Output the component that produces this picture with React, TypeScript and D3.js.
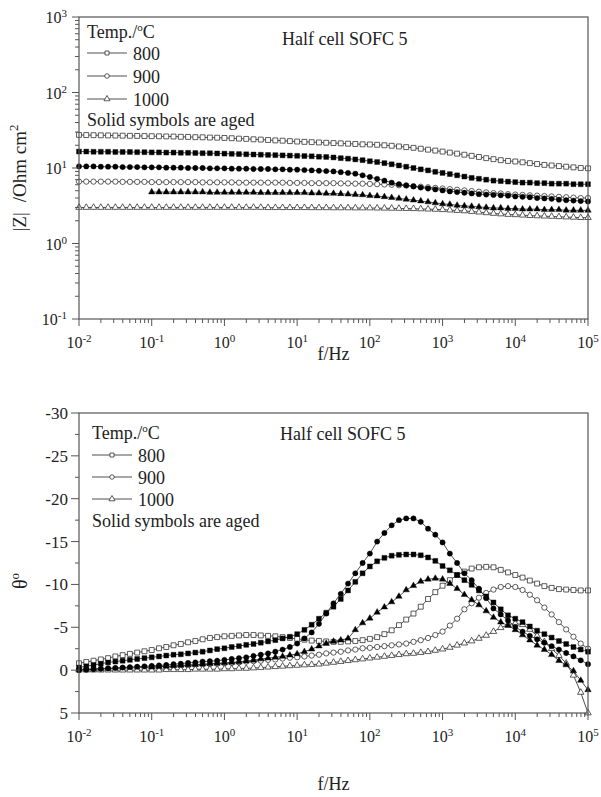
import React from "react";
import * as d3 from "d3";

// frequency grid: 10 points per decade, 10^-2 .. 10^5 Hz
const LOG_F = d3.range(-20, 51).map((k) => k / 10);
const FREQ = LOG_F.map((e) => Math.pow(10, e));

// |Z| / Ohm cm2
const Z_800 = [
  27.4, 27.3, 27.2, 27.1, 27.0, 26.9, 26.8, 26.7, 26.6, 26.5,
  26.4, 26.3, 26.2, 26.1, 25.9, 25.8, 25.6, 25.5, 25.3, 25.2,
  25.0, 24.8, 24.5, 24.3, 24.0, 23.8, 23.5, 23.2, 23.0, 22.7,
  22.4, 22.2, 22.0, 21.8, 21.6, 21.4, 21.2, 21.0, 20.8, 20.6,
  20.5, 20.3, 20.0, 19.7, 19.3, 18.9, 18.5, 18.0, 17.5, 17.0,
  16.5, 16.0, 15.5, 15.0, 14.5, 14.0, 13.5, 13.1, 12.7, 12.4,
  12.2, 11.9, 11.6, 11.3, 11.0, 10.8, 10.6, 10.4, 10.2, 10.0,
  9.9,
];
const Z_800_AGED = [
  16.5, 16.5, 16.4, 16.4, 16.4, 16.3, 16.3, 16.3, 16.2, 16.2,
  16.1, 16.1, 16.0, 16.0, 15.9, 15.9, 15.8, 15.7, 15.7, 15.6,
  15.5, 15.4, 15.3, 15.2, 15.1, 15.0, 14.9, 14.8, 14.7, 14.6,
  14.5, 14.4, 14.3, 14.1, 14.0, 13.8, 13.5, 13.3, 13.0, 12.7,
  12.3, 12.0, 11.6, 11.2, 10.8, 10.4, 10.0, 9.6, 9.3, 8.9,
  8.6, 8.3, 8.0, 7.7, 7.4, 7.2, 7.0, 6.8, 6.7, 6.6,
  6.5, 6.4, 6.4, 6.3, 6.3, 6.2, 6.2, 6.2, 6.1, 6.1,
  6.1,
];
const Z_900 = [
  6.6, 6.6, 6.6, 6.6, 6.6, 6.6, 6.55, 6.55, 6.55, 6.55,
  6.5, 6.5, 6.5, 6.5, 6.5, 6.5, 6.5, 6.45, 6.45, 6.45,
  6.45, 6.45, 6.4, 6.4, 6.4, 6.4, 6.4, 6.4, 6.4, 6.35,
  6.35, 6.35, 6.3, 6.3, 6.3, 6.3, 6.25, 6.25, 6.2, 6.2,
  6.15, 6.1, 6.05, 6.0, 5.9, 5.85, 5.75, 5.65, 5.55, 5.45,
  5.35, 5.25, 5.15, 5.05, 4.95, 4.85, 4.75, 4.65, 4.6, 4.5,
  4.45, 4.4, 4.35, 4.3, 4.25, 4.2, 4.15, 4.1, 4.05, 4.0,
  4.0,
];
const Z_900_AGED = [
  10.5, 10.5, 10.5, 10.4, 10.4, 10.4, 10.3, 10.3, 10.3, 10.2,
  10.2, 10.2, 10.1, 10.1, 10.1, 10.0, 10.0, 10.0, 9.9, 9.9,
  9.9, 9.8, 9.8, 9.8, 9.7, 9.7, 9.7, 9.6, 9.6, 9.5,
  9.5, 9.4, 9.3, 9.2, 9.1, 9.0, 8.8, 8.6, 8.4, 8.0,
  7.6, 7.2, 6.8, 6.4, 6.1, 5.9, 5.7, 5.5, 5.35, 5.2,
  5.05, 4.9, 4.8, 4.7, 4.6, 4.5, 4.45, 4.4, 4.35, 4.3,
  4.2, 4.15, 4.1, 4.0, 3.95, 3.9, 3.8, 3.75, 3.7, 3.65,
  3.6,
];
const Z_1000 = [
  3.0, 3.0, 3.0, 3.0, 3.0, 3.0, 3.0, 3.0, 3.0, 3.0,
  3.0, 3.0, 3.0, 3.0, 3.0, 3.0, 3.0, 3.0, 3.0, 3.0,
  3.0, 3.0, 3.0, 3.0, 3.0, 3.0, 2.98, 2.98, 2.98, 2.98,
  2.98, 2.98, 2.97, 2.97, 2.97, 2.96, 2.96, 2.96, 2.95, 2.95,
  2.95, 2.94, 2.93, 2.92, 2.91, 2.9, 2.89, 2.87, 2.85, 2.83,
  2.8, 2.77, 2.73, 2.7, 2.65, 2.6, 2.55, 2.5, 2.46, 2.42,
  2.4, 2.37, 2.34, 2.32, 2.3, 2.28, 2.26, 2.24, 2.22, 2.2,
  2.2,
];
const Z_1000_AGED = [
  null, null, null, null, null, null, null, null, null, null,
  4.8, 4.8, 4.8, 4.8, 4.8, 4.8, 4.8, 4.8, 4.75, 4.75,
  4.75, 4.75, 4.75, 4.75, 4.75, 4.7, 4.7, 4.7, 4.7, 4.7,
  4.7, 4.7, 4.65, 4.65, 4.6, 4.6, 4.55, 4.5, 4.45, 4.4,
  4.3, 4.25, 4.15, 4.05, 3.95, 3.85, 3.75, 3.65, 3.55, 3.45,
  3.35, 3.3, 3.2, 3.15, 3.1, 3.05, 3.0, 2.95, 2.95, 2.9,
  2.9, 2.85, 2.85, 2.85, 2.8, 2.8, 2.8, 2.75, 2.75, 2.75,
  2.75,
];

// phase angle theta / degree
const T_800 = [
  -0.8, -0.95, -1.1, -1.25, -1.4, -1.6, -1.75, -1.9, -2.05, -2.2,
  -2.35, -2.55, -2.7, -2.9, -3.05, -3.25, -3.4, -3.6, -3.75, -3.85,
  -3.95, -4.0, -4.05, -4.1, -4.1, -4.05, -4.0, -3.95, -3.85, -3.75,
  -3.65, -3.55, -3.45, -3.4, -3.35, -3.3, -3.3, -3.35, -3.4, -3.5,
  -3.65, -3.85, -4.2, -4.65, -5.25, -5.9, -6.6, -7.4, -8.3, -9.1,
  -9.85, -10.5, -11.1, -11.5, -11.85, -12.0, -12.05, -12.0, -11.7, -11.4,
  -11.1, -10.8, -10.45, -10.1, -9.8, -9.6, -9.45, -9.4, -9.35, -9.3,
  -9.3,
];
const T_800_AGED = [
  -0.3, -0.45, -0.6, -0.75, -0.9, -1.0, -1.1, -1.2, -1.3, -1.4,
  -1.5, -1.6, -1.7, -1.8, -1.85, -1.95, -2.05, -2.15, -2.3, -2.45,
  -2.55, -2.7, -2.8, -2.95, -3.05, -3.2, -3.35, -3.5, -3.7, -3.9,
  -4.2, -4.7, -5.3, -6.0, -6.7, -7.4, -8.3, -9.3, -10.3, -11.3,
  -12.1, -12.7, -13.1, -13.35, -13.45, -13.5, -13.5, -13.4, -13.15, -12.75,
  -12.15, -11.65, -11.1, -10.5, -9.95, -9.3, -8.6, -7.9, -7.1, -6.4,
  -6.0, -5.6, -5.1, -4.6, -4.2, -3.8, -3.4, -3.05, -2.7, -2.4,
  -2.15,
];
const T_900 = [
  -0.1, -0.1, -0.15, -0.15, -0.2, -0.2, -0.25, -0.25, -0.3, -0.3,
  -0.35, -0.4, -0.4, -0.45, -0.5, -0.55, -0.6, -0.65, -0.7, -0.75,
  -0.8, -0.85, -0.9, -1.0, -1.05, -1.1, -1.2, -1.25, -1.35, -1.45,
  -1.5, -1.6, -1.7, -1.8, -1.95, -2.05, -2.15, -2.3, -2.4, -2.55,
  -2.6, -2.7, -2.8, -2.9, -3.0, -3.1, -3.3, -3.5, -3.75, -4.1,
  -4.5, -5.2, -6.0, -7.1, -7.8, -8.45, -9.0, -9.4, -9.7, -9.8,
  -9.7, -9.35, -8.8, -8.15, -7.3, -6.5, -5.6, -4.75, -3.9, -3.1,
  -2.5,
];
const T_900_AGED = [
  0.0, -0.05, -0.1, -0.15, -0.2, -0.25, -0.3, -0.35, -0.4, -0.45,
  -0.5, -0.55, -0.6, -0.7, -0.75, -0.85, -0.9, -1.0, -1.05, -1.1,
  -1.2, -1.3, -1.4, -1.5, -1.65, -1.8, -1.95, -2.15, -2.4, -2.7,
  -3.1, -3.7, -4.4, -5.4, -6.6, -7.8, -8.9, -10.1, -11.3, -12.5,
  -13.6, -15.0, -16.0, -16.9, -17.5, -17.7, -17.7, -17.3, -16.5, -15.8,
  -14.9, -13.6, -12.5, -11.3, -10.5, -9.5, -8.4, -7.2, -6.5, -5.8,
  -5.05, -4.5, -4.0, -3.6, -3.2, -2.8, -2.4, -2.0, -1.6, -1.15,
  -0.7,
];
const T_1000 = [
  0.0, 0.0, 0.0, 0.0, 0.0, 0.0, 0.0, 0.0, 0.0, 0.0,
  0.0, 0.0, -0.05, -0.05, -0.05, -0.05, -0.1, -0.1, -0.1, -0.1,
  -0.15, -0.15, -0.2, -0.2, -0.25, -0.3, -0.35, -0.4, -0.45, -0.5,
  -0.55, -0.6, -0.65, -0.7, -0.8, -0.9, -1.0, -1.1, -1.2, -1.3,
  -1.4, -1.5, -1.6, -1.7, -1.8, -1.9, -1.95, -2.05, -2.15, -2.3,
  -2.45, -2.65, -2.9, -3.15, -3.4, -3.7, -4.05, -4.5, -4.95, -5.3,
  -5.45, -5.3, -4.75, -4.0, -3.3, -2.5, -1.7, -0.8, 0.6, 2.6,
  5.0,
];
const T_1000_AGED = [
  null, null, null, null, null, null, null, null, null, null,
  -0.35, -0.4, -0.45, -0.5, -0.55, -0.6, -0.65, -0.7, -0.75, -0.8,
  -0.85, -0.9, -0.95, -1.05, -1.15, -1.3, -1.4, -1.5, -1.6, -1.75,
  -1.9, -2.15, -2.45, -2.8, -3.1, -3.35, -3.5, -3.7, -4.7, -5.5,
  -6.05, -6.75, -7.35, -7.95, -8.6, -9.35, -9.85, -10.35, -10.6, -10.7,
  -10.6, -10.1, -9.5, -8.8, -8.2, -7.6, -6.9, -6.15, -5.6, -5.2,
  -4.7, -4.1, -3.5, -2.9, -2.4, -1.8, -1.1, -0.6, 0.1, 1.2,
  2.3,
];

const LEGEND_TEMPS = ["800", "900", "1000"];
const LEGEND_SYMBOLS = ["square", "circle", "triangle"];

const X_DECADES = [-2, -1, 0, 1, 2, 3, 4, 5];
const Z_DECADES = [-1, 0, 1, 2, 3];
const THETA_MAJOR = [-30, -25, -20, -15, -10, -5, 0, 5];

const FONT = "'Liberation Serif', 'Times New Roman', serif";
const FRAME = "#555";
const INK = "#222";

const L = 79, R = 588;
const TOP1 = 17, BOT1 = 319;
const TOP2 = 413, BOT2 = 713;

const x = d3.scaleLog().domain([1e-2, 1e5]).range([L, R]);
const yZ = d3.scaleLog().domain([0.1, 1000]).range([BOT1, TOP1]);
const yT = d3.scaleLinear().domain([5, -30]).range([BOT2, TOP2]);

const symPath = (kind: string, size: number) => {
  const t = kind === "square" ? d3.symbolSquare : kind === "circle" ? d3.symbolCircle : d3.symbolTriangle;
  return d3.symbol().type(t).size(size)() as string;
};
const SIZES: Record<string, number> = { square: 24, circle: 22, triangle: 18 };

function Series({ values, kind, filled, y }: any) {
  const pts = FREQ.map((f, i) => [f, values[i]] as [number, number | null]);
  const line = d3
    .line<[number, number | null]>()
    .defined((d) => d[1] != null)
    .x((d) => x(d[0]))
    .y((d) => y(d[1] as number));
  const p = symPath(kind, SIZES[kind]);
  return (
    <g>
      <path d={line(pts) as string} fill="none" stroke={INK} strokeWidth={0.8} />
      {pts
        .filter((d) => d[1] != null)
        .map((d, i) => (
          <path
            key={i}
            d={p}
            transform={`translate(${x(d[0])},${y(d[1] as number)})`}
            fill={filled ? "#000" : "#fff"}
            stroke={filled ? "#000" : "#333"}
            strokeWidth={filled ? 0.4 : 0.8}
          />
        ))}
    </g>
  );
}

function XAxis({ y0 }: { y0: number }) {
  const minor: number[] = [];
  X_DECADES.slice(0, -1).forEach((e) => {
    for (let m = 2; m <= 9; m++) minor.push(m * Math.pow(10, e));
  });
  return (
    <g>
      {minor.map((v, i) => (
        <line key={"m" + i} x1={x(v)} x2={x(v)} y1={y0} y2={y0 + 4} stroke={FRAME} strokeWidth={1} />
      ))}
      {X_DECADES.map((e) => (
        <g key={e}>
          <line x1={x(Math.pow(10, e))} x2={x(Math.pow(10, e))} y1={y0} y2={y0 + 7} stroke={FRAME} strokeWidth={1} />
          <text x={x(Math.pow(10, e))} y={y0 + 29} textAnchor="middle" fontSize={16} fill={INK}>
            10<tspan dy={-6} fontSize={11}>{e}</tspan>
          </text>
        </g>
      ))}
    </g>
  );
}

function Legend({ x0, yTitle, rowYs, ySolid }: any) {
  return (
    <g fill={INK}>
      <text x={x0} y={yTitle} fontSize={18}>
        Temp./<tspan dy={-7} fontSize={11}>o</tspan>
        <tspan dy={7}>C</tspan>
      </text>
      {LEGEND_TEMPS.map((t, i) => (
        <g key={t}>
          <line x1={x0} x2={x0 + 40} y1={rowYs[i]} y2={rowYs[i]} stroke={INK} strokeWidth={0.8} />
          <path
            d={symPath(LEGEND_SYMBOLS[i], 16)}
            transform={`translate(${x0 + 20},${rowYs[i]})`}
            fill="#fff"
            stroke="#333"
            strokeWidth={0.8}
          />
          <text x={x0 + 46} y={rowYs[i] + 7} fontSize={18}>
            {t}
          </text>
        </g>
      ))}
      <text x={x0} y={ySolid} fontSize={18}>
        Solid symbols are aged
      </text>
    </g>
  );
}

export default function App() {
  const zMinor: number[] = [];
  Z_DECADES.slice(0, -1).forEach((e) => {
    for (let m = 2; m <= 9; m++) zMinor.push(m * Math.pow(10, e));
  });
  const tMinor = d3.range(-27.5, 5, 5);

  return (
    <svg
      width={601}
      height={797}
      style={{ position: "absolute", left: 0, top: 0, background: "#fff", fontFamily: FONT }}
      fontFamily={FONT}
    >
      <rect width={601} height={797} fill="#fff" />

      {/* ---------- top panel: |Z| ---------- */}
      <g>
        <Series values={Z_800} kind="square" filled={false} y={yZ} />
        <Series values={Z_800_AGED} kind="square" filled={true} y={yZ} />
        <Series values={Z_900} kind="circle" filled={false} y={yZ} />
        <Series values={Z_900_AGED} kind="circle" filled={true} y={yZ} />
        <Series values={Z_1000} kind="triangle" filled={false} y={yZ} />
        <Series values={Z_1000_AGED} kind="triangle" filled={true} y={yZ} />

        <rect x={L} y={TOP1} width={R - L} height={BOT1 - TOP1} fill="none" stroke={FRAME} strokeWidth={1.2} />
        <XAxis y0={BOT1} />
        {zMinor.map((v, i) => (
          <line key={i} x1={L - 4} x2={L} y1={yZ(v)} y2={yZ(v)} stroke={FRAME} strokeWidth={1} />
        ))}
        {Z_DECADES.map((e) => (
          <g key={e}>
            <line x1={L - 7} x2={L} y1={yZ(Math.pow(10, e))} y2={yZ(Math.pow(10, e))} stroke={FRAME} strokeWidth={1} />
            <text x={67} y={yZ(Math.pow(10, e)) + 6} textAnchor="end" fontSize={16} fill={INK}>
              10<tspan dy={-6} fontSize={11}>{e}</tspan>
            </text>
          </g>
        ))}
        <text transform={`translate(26,178) rotate(-90)`} textAnchor="middle" fontSize={19} fill={INK}>
          |Z|<tspan dx={10}>/Ohm cm</tspan>
          <tspan dy={-8} fontSize={13}>2</tspan>
        </text>
        <text x={(L + R) / 2} y={360} textAnchor="middle" fontSize={18} fill={INK}>
          f/Hz
        </text>
        <text x={282} y={45} fontSize={18} fill={INK}>
          Half cell SOFC 5
        </text>
        <Legend x0={87} yTitle={38} rowYs={[53, 76, 99]} ySolid={126} />
      </g>

      {/* ---------- bottom panel: theta ---------- */}
      <g>
        <Series values={T_800} kind="square" filled={false} y={yT} />
        <Series values={T_900} kind="circle" filled={false} y={yT} />
        <Series values={T_1000} kind="triangle" filled={false} y={yT} />
        <Series values={T_800_AGED} kind="square" filled={true} y={yT} />
        <Series values={T_900_AGED} kind="circle" filled={true} y={yT} />
        <Series values={T_1000_AGED} kind="triangle" filled={true} y={yT} />

        <rect x={L} y={TOP2} width={R - L} height={BOT2 - TOP2} fill="none" stroke={FRAME} strokeWidth={1.2} />
        <XAxis y0={BOT2} />
        {tMinor.map((v, i) => (
          <line key={i} x1={L - 4} x2={L} y1={yT(v)} y2={yT(v)} stroke={FRAME} strokeWidth={1} />
        ))}
        {THETA_MAJOR.map((v) => (
          <g key={v}>
            <line x1={L - 8} x2={L} y1={yT(v)} y2={yT(v)} stroke={FRAME} strokeWidth={1} />
            <text x={68} y={yT(v) + 6} textAnchor="end" fontSize={17} fill={INK}>
              {String(v)}
            </text>
          </g>
        ))}
        <text transform={`translate(27,581) rotate(-90)`} textAnchor="middle" fontSize={20} fill={INK}>
          θ<tspan dy={-8} fontSize={13}>o</tspan>
        </text>
        <text x={(L + R) / 2} y={790} textAnchor="middle" fontSize={18} fill={INK}>
          f/Hz
        </text>
        <text x={280} y={440} fontSize={18} fill={INK}>
          Half cell SOFC 5
        </text>
        <Legend x0={92} yTitle={439} rowYs={[455, 477, 499]} ySolid={527} />
      </g>
    </svg>
  );
}
